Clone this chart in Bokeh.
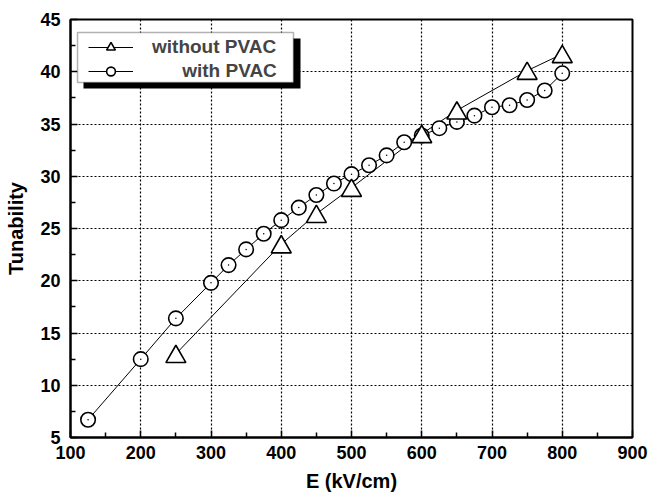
from bokeh.plotting import figure
from bokeh.models import Range1d, FixedTicker, Legend, LegendItem, BoxAnnotation, ColumnDataSource
from bokeh.transform import dodge
from bokeh.embed import file_html
from bokeh.resources import INLINE

# Data
e_without = [250, 400, 450, 500, 600, 650, 750, 800]
t_without = [13.0, 23.5, 26.4, 28.9, 34.05, 36.3, 40.1, 41.7]

e_with = [125, 200, 250, 300, 325, 350, 375, 400, 425, 450, 475, 500, 525, 550,
          575, 600, 625, 650, 675, 700, 725, 750, 775, 800]
t_with = [6.7, 12.5, 16.4, 19.8, 21.5, 23.0, 24.5, 25.8, 27.0, 28.2, 29.3, 30.2,
          31.05, 32.0, 33.25, 33.9, 34.6, 35.2, 35.8, 36.6, 36.8, 37.3, 38.2, 39.85]

x_ticks = [100, 200, 300, 400, 500, 600, 700, 800, 900]
y_ticks = [5, 10, 15, 20, 25, 30, 35, 40, 45]

FONT = "Liberation Sans"

src_without = ColumnDataSource(data=dict(x=e_without, y=t_without))
src_with = ColumnDataSource(data=dict(x=e_with, y=t_with))

p = figure(width=651, height=497, output_backend="svg", toolbar_location=None,
           x_range=Range1d(100, 900), y_range=Range1d(5, 45),
           min_border_left=70, min_border_right=19, min_border_top=19, min_border_bottom=60)
p.outline_line_color = "black"
p.outline_line_width = 2
p.background_fill_color = "white"
p.border_fill_color = "white"

for ax in (p.xaxis, p.yaxis):
    ax.axis_line_width = 2
    ax.axis_line_color = "black"
    ax.major_tick_in = 7
    ax.major_tick_out = 0
    ax.major_tick_line_width = 1.5
    ax.minor_tick_in = 5
    ax.minor_tick_out = 0
    ax.minor_tick_line_width = 1.5
    ax.major_label_text_font = FONT
    ax.major_label_text_font_style = "bold"
    ax.major_label_text_font_size = "18px"
    ax.major_label_text_color = "black"
    ax.axis_label_text_font = FONT
    ax.axis_label_text_font_style = "bold"
    ax.axis_label_text_font_size = "20px"
    ax.axis_label_text_color = "black"

p.xaxis.ticker = FixedTicker(ticks=x_ticks, minor_ticks=list(range(150, 900, 100)))
p.yaxis.ticker = FixedTicker(ticks=y_ticks, minor_ticks=[7.5 + 5 * i for i in range(8)])

p.xaxis.axis_label = "E (kV/cm)"
p.yaxis.axis_label = "Tunability"
p.xaxis.major_label_standoff = 8
p.yaxis.major_label_standoff = 10
p.xaxis.axis_label_standoff = 8
p.yaxis.axis_label_standoff = 10

p.xgrid.ticker = FixedTicker(ticks=x_ticks[1:-1])
p.ygrid.ticker = FixedTicker(ticks=y_ticks[1:-1])
for g in (p.xgrid, p.ygrid):
    g.grid_line_color = "black"
    g.grid_line_dash = "2 2"
    g.grid_line_width = 1.2

# series: lines first, then circles, then triangles on top
l1 = p.line("x", "y", source=src_without, line_color="black", line_width=1)
l2 = p.line("x", "y", source=src_with, line_color="black", line_width=1)
s2 = p.scatter("x", "y", source=src_with, marker="circle", size=14.5,
               fill_color="white", line_color="black", line_width=1.6)
p.scatter("x", "y", source=src_with, marker="dot", size=6, color="black")
# triangle markers shifted so that their box centre sits on the value
s1 = p.scatter("x", dodge("y", -0.276), source=src_without, marker="triangle", size=20,
               fill_color="white", line_color="black", line_width=1.6)

# legend frame with drop shadow
shadow = BoxAnnotation(left=118.5, right=427.4, top=43.18, bottom=38.40,
                       fill_color="black", fill_alpha=1, line_alpha=0)
box = BoxAnnotation(left=110.0, right=417.4, top=43.76, bottom=38.97,
                    fill_color="white", fill_alpha=1, line_color="black", line_width=1.5)
p.add_layout(shadow)
p.add_layout(box)

legend = Legend(items=[LegendItem(label="without PVAC", renderers=[l1, s1]),
                       LegendItem(label="\u00a0" * 5 + "\u2009" + "with PVAC", renderers=[l2, s2])],
                location=(18, 355))
legend.label_text_font = FONT
legend.label_text_font_style = "bold"
legend.label_text_font_size = "19px"
legend.glyph_width = 45
legend.glyph_height = 22
legend.label_height = 22
legend.label_standoff = 19
legend.spacing = 2
legend.padding = 0
legend.margin = 0
legend.border_line_alpha = 0
legend.background_fill_alpha = 0
p.add_layout(legend)

open("out.html", "w").write(file_html(p, INLINE))
